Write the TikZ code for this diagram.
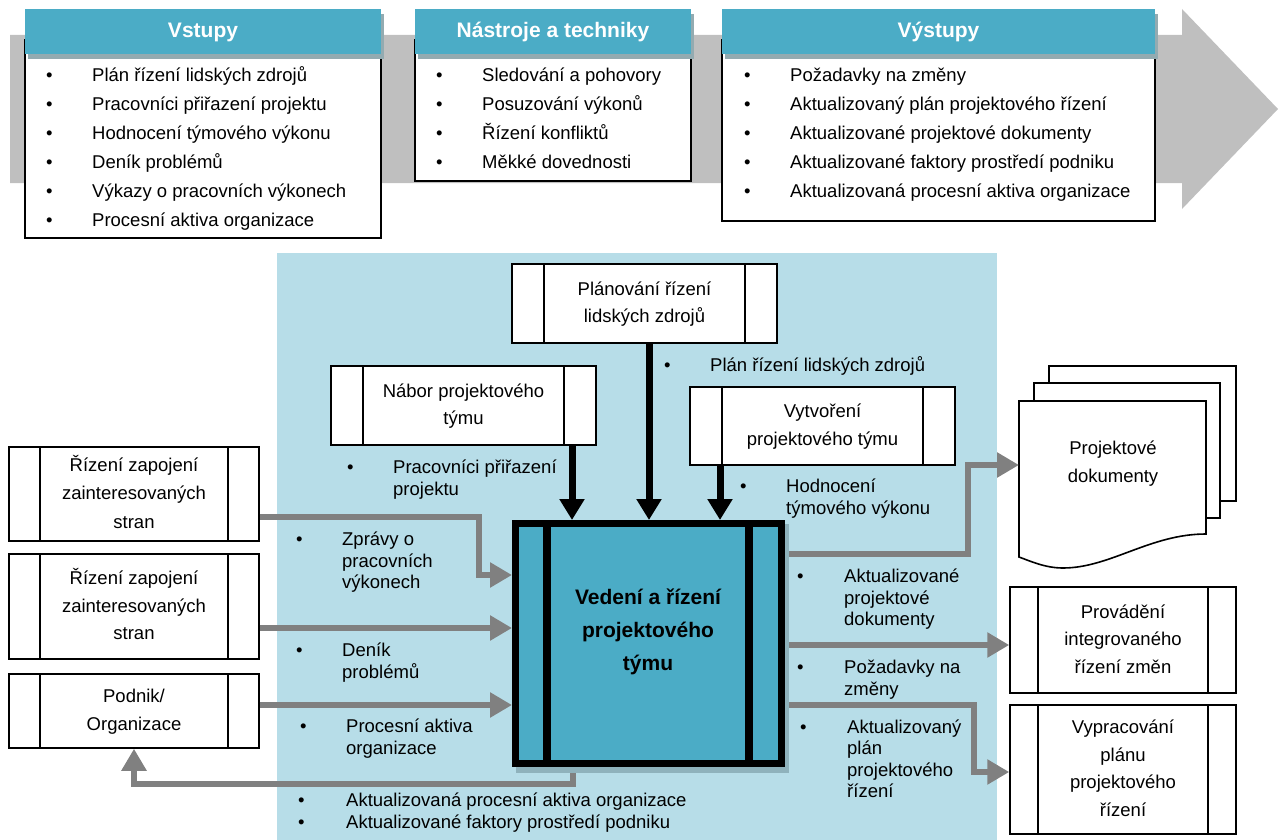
\documentclass[tikz,border=0pt]{standalone}
\usepackage{fontspec}
\setmainfont{Liberation Sans}
\usetikzlibrary{arrows.meta}

\definecolor{hdrblue}{HTML}{4BACC6}
\definecolor{hdrshadow}{HTML}{93ABB1}
\definecolor{panelblue}{HTML}{B7DDE8}
\definecolor{flowgray}{HTML}{BFBFBF}
\definecolor{arrgray}{HTML}{808080}
\definecolor{coreshadow}{HTML}{8FB2BC}

% bulleted rows: bullet column, then the item text
\newcommand\bulist[1]{\begin{tabular}{@{}p{46pt}@{}l@{}}#1\end{tabular}}
% centred multi-line box text
\newcommand\ctab[1]{\begin{tabular}{@{}c@{}}#1\end{tabular}}

\tikzset{
  procbar/.store in=\procbar, procbar=31pt,
  proc/.style={draw, fill=white, line width=1.5pt, inner sep=0pt,
    font=\fontsize{18.5}{27.5}\selectfont,
    path picture={\draw[line width=1.5pt]
      ([xshift=\procbar]path picture bounding box.north west) --
      ([xshift=\procbar]path picture bounding box.south west)
      ([xshift=-\procbar]path picture bounding box.north east) --
      ([xshift=-\procbar]path picture bounding box.south east);}},
  hdr/.style={fill=hdrblue, text=white, font=\fontsize{21}{25}\selectfont\bfseries,
    inner sep=0pt, minimum height=45pt, text height=15pt, text depth=2pt},
  lst/.style={font=\fontsize{18.5}{29}\selectfont, inner sep=0pt, anchor=west},
  lbl/.style={font=\fontsize{18.5}{21.5}\selectfont, inner sep=0pt, anchor=west},
  boxtxt/.style={font=\fontsize{18.5}{27.5}\selectfont, inner sep=0pt},
  blk/.style={line width=7pt, -{Triangle[width=24pt,length=21pt]}},
  garr/.style={draw=arrgray, line width=6.5pt, -{Triangle[width=24pt,length=22pt]}},
}

\begin{document}
\begin{tikzpicture}[x=1pt, y=-1pt]
\useasboundingbox (0,0) rectangle (1280,840);

% process flow band
\fill[flowgray] (10,35) -- (1182,35) -- (1182,9) -- (1278,109) -- (1182,209)
  -- (1182,183) -- (10,183) -- cycle;

% list panels
\draw[fill=white, line width=1.8pt] (25,40) rectangle (381,238);
\draw[fill=white, line width=1.8pt] (415,40) rectangle (691,181);
\draw[fill=white, line width=1.8pt] (722,40) rectangle (1155,221);
\fill[hdrshadow] (28,14) rectangle (384,59);
\fill[hdrshadow] (418,14) rectangle (694,59);
\fill[hdrshadow] (725,14) rectangle (1158,59);
\node[hdr, minimum width=356pt] (hin) at (203,31.5) {Vstupy};
\node[hdr, minimum width=276pt] (htool) at (553,31.5) {Nástroje a techniky};
\node[hdr, minimum width=433pt] (hout) at (938.5,31.5) {Výstupy};

\node[lst] (lin) at (46,148) {\bulist{•&Plán řízení lidských zdrojů\\
  •&Pracovníci přiřazení projektu\\ •&Hodnocení týmového výkonu\\
  •&Deník problémů\\ •&Výkazy o pracovních výkonech\\ •&Procesní aktiva organizace}};
\node[lst] (ltool) at (436,119) {\bulist{•&Sledování a pohovory\\
  •&Posuzování výkonů\\ •&Řízení konfliktů\\ •&Měkké dovednosti}};
\node[lst] (lout) at (744,134) {\bulist{•&Požadavky na změny\\
  •&Aktualizovaný plán projektového řízení\\ •&Aktualizované projektové dokumenty\\
  •&Aktualizované faktory prostředí podniku\\ •&Aktualizovaná procesní aktiva organizace}};

% process area
\fill[panelblue] (277,253) rectangle (997,840);

\node[proc, minimum width=265pt, minimum height=79pt, procbar=32pt] (plan) at (644.5,303.5)
  {\ctab{Plánování řízení\\lidských zdrojů}};
\node[proc, minimum width=265pt, minimum height=79pt, procbar=32pt] (nabor) at (463.5,405.5)
  {\ctab{Nábor projektového\\týmu}};
\node[proc, minimum width=265pt, minimum height=78pt, procbar=32pt] (vytv) at (822.5,426)
  {\ctab{Vytvoření\\projektového týmu}};
\node[proc, minimum width=250pt, minimum height=94pt, font=\fontsize{18.5}{28.5}\selectfont]
  (left1) at (134,494) {\raisebox{-3pt}{\ctab{Řízení zapojení\\zainteresovaných\\stran}}};
\node[proc, minimum width=250pt, minimum height=105pt] (left2) at (134,606.5)
  {\ctab{Řízení zapojení\\zainteresovaných\\stran}};
\node[proc, minimum width=250pt, minimum height=74pt] (left3) at (134,711)
  {\ctab{Podnik/\\Organizace}};
\node[proc, minimum width=226pt, minimum height=106pt, procbar=28pt] (right1) at (1123,640)
  {\ctab{Provádění\\integrovaného\\řízení změn}};
\node[proc, minimum width=226pt, minimum height=129pt, procbar=28pt] (right2) at (1123,769.5)
  {\ctab{Vypracování\\plánu\\projektového\\řízení}};

% stacked project documents
\draw[fill=white, line width=1.6pt] (1049,366) rectangle (1236,501);
\draw[fill=white, line width=1.6pt] (1034,383) rectangle (1220,518);
\draw[fill=white, line width=1.6pt] (1019,401) -- (1206,401) -- (1206,534)
  .. controls (1150,534) and (1110,568) .. (1063,568)
  .. controls (1045,568) and (1030,561) .. (1019,557) -- cycle;
\node[boxtxt] (doctxt) at (1113,463) {\ctab{Projektové\\dokumenty}};
\coordinate (docin) at (1019,465);

% flow labels
\node[lbl] (lplan) at (664,367) {\bulist{•&Plán řízení lidských zdrojů}};
\node[lbl] (lnab) at (347,480) {\bulist{•&Pracovníci přiřazení\\&projektu}};
\node[lbl] (lhod) at (740,499) {\bulist{•&Hodnocení\\&týmového výkonu}};
\node[lbl] (lzpr) at (296,563) {\bulist{•&Zprávy o\\&pracovních\\&výkonech}};
\node[lbl] (lden) at (296,663) {\bulist{•&Deník\\&problémů}};
\node[lbl] (lpro) at (300,739) {\bulist{•&Procesní aktiva\\&organizace}};
\node[lbl] (lbot) at (298,813) {\begin{tabular}{@{}p{48pt}@{}l@{}}•&Aktualizovaná procesní aktiva organizace\\
  •&Aktualizované faktory prostředí podniku\end{tabular}};
\node[lbl] (lakd) at (797,600) {\begin{tabular}{@{}p{47pt}@{}l@{}}•&Aktualizované\\&projektové\\&dokumenty\end{tabular}};
\node[lbl] (lpoz) at (797,680) {\begin{tabular}{@{}p{47pt}@{}l@{}}•&Požadavky na\\&změny\end{tabular}};
\node[lbl] (lapl) at (800,761) {\begin{tabular}{@{}p{47pt}@{}l@{}}•&Aktualizovaný\\&plán\\&projektového\\&řízení\end{tabular}};

% outer corners of the central process, used by the flows
\coordinate (corenw) at (512,520);
\coordinate (corese) at (785,767);

% grey data flows
\draw[garr] (left1.east |- 0,517) -| (479,575) -- (corenw |- 0,575);
\draw[garr] (left2.east |- 0,628) -- (corenw |- 0,628);
\draw[garr] (left3.east |- 0,705) -- (corenw |- 0,705);
\draw[garr] (573,0 |- corese) -- (573,784) -| (left3.south);
\draw[garr] (corese |- 0,554) -- (968,554) |- (docin);
\draw[garr] (corese |- 0,645) -- (right1.west |- 0,645);
\draw[garr] (corese |- 0,705) -| (974,772) -- (right2.west |- 0,772);

% central process
\fill[coreshadow] (516,524) rectangle (789,773);
\node[draw, line width=7pt, fill=hdrblue, minimum width=266pt, minimum height=240pt,
  inner sep=0pt] (core) at (648.5,643.5) {};
\draw[line width=8pt] (547,0 |- core.north) -- (547,0 |- core.south);
\draw[line width=8pt] (749,0 |- core.north) -- (749,0 |- core.south);
\node[font=\fontsize{21}{33}\selectfont\bfseries, inner sep=0pt] (coretxt) at (648,631)
  {\ctab{Vedení a řízení\\projektového\\týmu}};

% black inputs from the planning processes
\draw[blk] (572,0 |- nabor.south) -- (572,0 |- core.north);
\draw[blk] (649,0 |- plan.south) -- (649,0 |- core.north);
\draw[blk] (720,0 |- vytv.south) -- (720,0 |- core.north);
\end{tikzpicture}
\end{document}
